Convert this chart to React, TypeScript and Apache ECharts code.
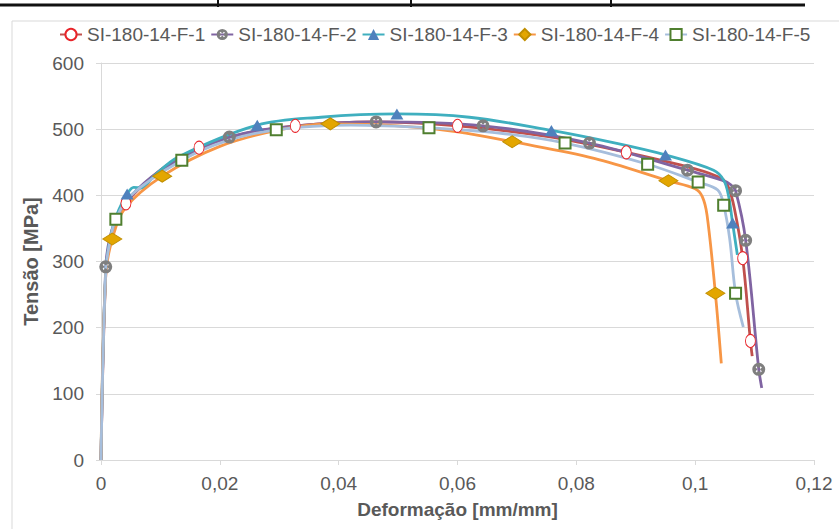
import React, { useEffect, useRef } from "react";
import * as echarts from "echarts";

const seriesNames = ["SI-180-14-F-1", "SI-180-14-F-2", "SI-180-14-F-3", "SI-180-14-F-4", "SI-180-14-F-5"];

const f1Strain = [0, 0.0008, 0.0016, 0.0028, 0.0042, 0.007, 0.011, 0.0165, 0.024, 0.0327, 0.046, 0.06, 0.075, 0.0884, 0.1, 0.1045, 0.1056, 0.1066, 0.108, 0.1093, 0.1096];
const f1Stress = [0, 280, 335, 365, 388, 415, 445, 472, 493, 505, 511, 505, 489, 465, 440, 425, 412, 380, 305, 180, 157];
const f1Marks = [4, 7, 9, 11, 13, 18, 19];

const f2Strain = [0, 0.0008, 0.0016, 0.003, 0.006, 0.011, 0.0216, 0.033, 0.0463, 0.0643, 0.0822, 0.0987, 0.1045, 0.106, 0.1068, 0.1085, 0.1107, 0.1112];
const f2Stress = [0, 292, 340, 372, 408, 443, 488, 505, 511, 505, 479, 438, 423, 416, 407, 332, 137, 109];
const f2Marks = [1, 6, 8, 9, 10, 11, 14, 15, 16];

const f3Strain = [0, 0.0008, 0.0018, 0.003, 0.0044, 0.0055, 0.0068, 0.009, 0.013, 0.0263, 0.037, 0.0498, 0.062, 0.0758, 0.087, 0.095, 0.1031, 0.1048, 0.1056, 0.1063, 0.1071];
const f3Stress = [0, 285, 345, 378, 402, 412, 411, 430, 458, 506, 518, 523, 518, 498, 478, 461, 438, 423, 400, 358, 310];
const f3Marks = [4, 9, 11, 13, 15, 19];

const f4Strain = [0, 0.0008, 0.0019, 0.004, 0.0103, 0.02, 0.03, 0.0386, 0.05, 0.06, 0.0692, 0.083, 0.0955, 0.1, 0.1012, 0.102, 0.1034, 0.1044];
const f4Stress = [0, 280, 334, 380, 429, 474, 499, 508, 505, 496, 481, 456, 422, 410, 398, 370, 252, 146];
const f4Marks = [2, 4, 7, 10, 12, 16];

const f5Strain = [0, 0.0008, 0.0016, 0.0025, 0.005, 0.0136, 0.021, 0.0295, 0.042, 0.0552, 0.067, 0.0781, 0.092, 0.1005, 0.1038, 0.1048, 0.1058, 0.1068, 0.1081];
const f5Stress = [0, 285, 335, 364, 400, 453, 482, 499, 506, 502, 494, 479, 447, 420, 408, 385, 335, 252, 201];
const f5Marks = [3, 5, 7, 9, 11, 12, 13, 15, 17];

const xMin = 0;
const xMax = 0.12;
const xStep = 0.02;
const yMin = 0;
const yMax = 600;
const yStep = 100;

const FONT = "'Liberation Sans', Arial, sans-serif";
const TEXT = "#595959";

const crossCircle =
  "path://M10 0A10 10 0 1 1 10 20A10 10 0 1 1 10 0Z M12.97 5.19L10 8.16L7.03 5.19L5.19 7.03L8.16 10L5.19 12.97L7.03 14.81L10 11.84L12.97 14.81L14.81 12.97L11.84 10L14.81 7.03Z";

const styles = [
  { line: "#C0504D", symbol: "circle", size: [10, 13], item: { color: "#ffffff", borderColor: "#E8242A", borderWidth: 1, opacity: 1 } },
  { line: "#8064A2", symbol: crossCircle, size: 13, item: { color: "#7F7F7F", borderWidth: 0, opacity: 1 } },
  { line: "#3FAFBF", symbol: "triangle", size: [13, 11], item: { color: "#4F81BD", borderWidth: 0, opacity: 1 } },
  { line: "#F79646", symbol: "diamond", size: [19, 12], item: { color: "#E3A600", borderColor: "#C08E00", borderWidth: 1, opacity: 1 } },
  { line: "#A6BEDC", symbol: "rect", size: 11, item: { color: "#ffffff", borderColor: "#4F7F2F", borderWidth: 2, opacity: 1 } },
];

export default function App() {
  const ref = useRef<HTMLDivElement>(null);
  useEffect(() => {
    if (!ref.current) return;
    const chart = echarts.init(ref.current, null, { renderer: "svg" });
    const curves = [
      [f1Strain, f1Stress, f1Marks],
      [f2Strain, f2Stress, f2Marks],
      [f3Strain, f3Stress, f3Marks],
      [f4Strain, f4Stress, f4Marks],
      [f5Strain, f5Stress, f5Marks],
    ] as number[][][];
    const lineSeries = seriesNames.map((name, k) => ({
      name,
      type: "line",
      data: curves[k][0].map((x, i) => [x, curves[k][1][i]]),
      smooth: 0.35,
      showSymbol: false,
      symbol: styles[k].symbol,
      symbolSize: styles[k].size,
      itemStyle: styles[k].item,
      lineStyle: { color: styles[k].line, width: 2.8 },
      emphasis: { disabled: true },
      z: 2 + k,
    }));
    const markerSeries = seriesNames.map((name, k) => ({
      name,
      type: "scatter",
      data: curves[k][2].map((i) => [curves[k][0][i], curves[k][1][i]]),
      symbol: styles[k].symbol,
      symbolSize: styles[k].size,
      itemStyle: styles[k].item,
      emphasis: { disabled: true },
      z: 10 + k,
    }));
    chart.setOption({
      animation: false,
      backgroundColor: "#ffffff",
      graphic: [
        { type: "rect", shape: { x: 12, y: 21, width: 900, height: 600 }, style: { fill: "none", stroke: "#D9D9D9", lineWidth: 1 }, silent: true },
        { type: "line", shape: { x1: 0, y1: 5, x2: 805, y2: 5 }, style: { stroke: "#111111", lineWidth: 3 }, silent: true },
        { type: "line", shape: { x1: 218, y1: 0, x2: 218, y2: 7 }, style: { stroke: "#111111", lineWidth: 2 }, silent: true },
        { type: "line", shape: { x1: 411, y1: 0, x2: 411, y2: 7 }, style: { stroke: "#111111", lineWidth: 2 }, silent: true },
        { type: "line", shape: { x1: 611, y1: 0, x2: 611, y2: 7 }, style: { stroke: "#111111", lineWidth: 2 }, silent: true },
      ],
      legend: {
        left: 54,
        top: 20,
        itemWidth: 22,
        itemHeight: 14,
        itemGap: 5,
        textStyle: { fontFamily: FONT, fontSize: 19, color: TEXT },
        data: seriesNames,
      },
      grid: { left: 101, right: 25, top: 63, bottom: 69, containLabel: false },
      xAxis: {
        type: "value",
        min: xMin,
        max: xMax,
        interval: xStep,
        name: "Deformação [mm/mm]",
        nameLocation: "middle",
        nameGap: 40,
        nameTextStyle: { fontFamily: FONT, fontSize: 19, fontWeight: "bold", color: TEXT },
        axisLine: { show: true, lineStyle: { color: "#D9D9D9", width: 1 } },
        axisTick: { show: true, length: 5, lineStyle: { color: "#D9D9D9" } },
        splitLine: { show: false },
        axisLabel: {
          fontFamily: FONT,
          fontSize: 19,
          color: TEXT,
          margin: 14,
          formatter: (v: number) => String(+v.toFixed(4)).replace(".", ","),
        },
      },
      yAxis: {
        type: "value",
        min: yMin,
        max: yMax,
        interval: yStep,
        name: "Tensão [MPa]",
        nameLocation: "middle",
        nameRotate: 90,
        nameGap: 48,
        nameTextStyle: { fontFamily: FONT, fontSize: 20, fontWeight: "bold", color: TEXT },
        axisLine: { show: true, lineStyle: { color: "#D9D9D9", width: 1 } },
        axisTick: { show: true, length: 5, lineStyle: { color: "#D9D9D9" } },
        splitLine: { show: true, lineStyle: { color: "#D9D9D9", width: 1 } },
        axisLabel: { fontFamily: FONT, fontSize: 19, color: TEXT, margin: 17 },
      },
      series: [...lineSeries, ...markerSeries],
    });
    return () => chart.dispose();
  }, []);
  return (
    <div
      ref={ref}
      style={{ position: "fixed", left: 0, top: 0, width: 839, height: 529, background: "#fff" }}
    />
  );
}
